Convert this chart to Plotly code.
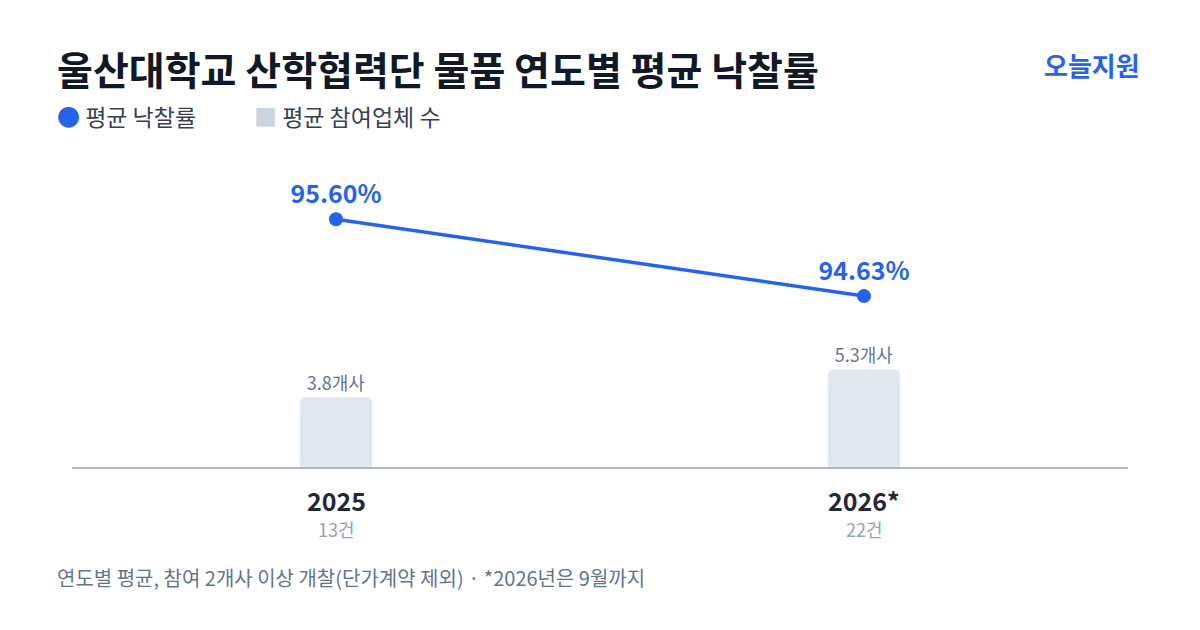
import plotly.graph_objects as go

years = ["2025", "2026*"]
counts = ["13건", "22건"]
avg_rate = [95.60, 94.63]
avg_bidders = [3.8, 5.3]

BLUE = "#2563eb"
FONT = "Noto Sans CJK KR"
OFF = 8  # page body margin

fig = go.Figure()
fig.add_trace(go.Bar(
    x=[0, 1], y=avg_bidders, width=0.136,
    marker=dict(color="#e2e8f0", cornerradius=5),
    text=[f"{v}개사" for v in avg_bidders], textposition="outside",
    textfont=dict(size=18, color="#64748b", family=FONT),
    cliponaxis=False, hoverinfo="skip", showlegend=False,
))
fig.add_trace(go.Scatter(
    x=[0, 1], y=avg_rate, yaxis="y2", mode="lines+markers+text",
    line=dict(color=BLUE, width=3.5), marker=dict(size=14, color=BLUE),
    text=[f"<b>{v:.2f}%</b>" for v in avg_rate], textposition="top center",
    textfont=dict(size=25, color=BLUE, family=FONT),
    cliponaxis=False, showlegend=False,
))

fig.update_layout(
    width=1200, height=630, paper_bgcolor="white", plot_bgcolor="white",
    margin=dict(l=72 - OFF, r=72 + OFF, t=140 - OFF, b=162 + OFF),
    font=dict(family=FONT),
    xaxis=dict(range=[-0.5, 1.5], showticklabels=False, showgrid=False,
               zeroline=False, showline=False),
    yaxis=dict(range=[0, 17.7], visible=False),
    yaxis2=dict(range=[92.46, 96.60], overlaying="y", visible=False),
    shapes=[dict(type="line", xref="paper", yref="paper", x0=0, x1=1, y0=0, y1=0,
                 line=dict(color="#94a3b8", width=1.5))],
)

ann = [
    dict(text="<b>울산대학교 산학협력단 물품 연도별 평균 낙찰률</b>", x=55, y=68,
         font=dict(size=39, color="#111827")),
    dict(text="<b>오늘지원</b>", x=1142, y=64, xanchor="right",
         font=dict(size=26, color=BLUE)),
    dict(text="<span style='color:#2563eb'>●</span> 평균 낙찰률", x=55, y=116,
         font=dict(size=23, color="#374151")),
    dict(text="<span style='color:#cbd5e1'>■</span> 평균 참여업체 수", x=252, y=116,
         font=dict(size=23, color="#374151")),
    dict(text="연도별 평균, 참여 2개사 이상 개찰(단가계약 제외) · *2026년은 9월까지", x=55, y=577,
         font=dict(size=20, color="#64748b")),
]
for i, (yr, c) in enumerate(zip(years, counts)):
    px = 336 + 528 * i
    ann.append(dict(text=f"<b>{yr}</b>", x=px, y=500, xanchor="center",
                    font=dict(size=25, color="#1f2937")))
    ann.append(dict(text=c, x=px, y=529, xanchor="center",
                    font=dict(size=18, color="#94a3b8")))
for a in ann:
    a.setdefault("xanchor", "left")
    fig.add_annotation(xref="paper", yref="paper", showarrow=False, yanchor="middle",
                       x=(a.pop("x") - 72) / 1056, y=(468 - a.pop("y")) / 328, **a)

fig.write_html("out.html")
